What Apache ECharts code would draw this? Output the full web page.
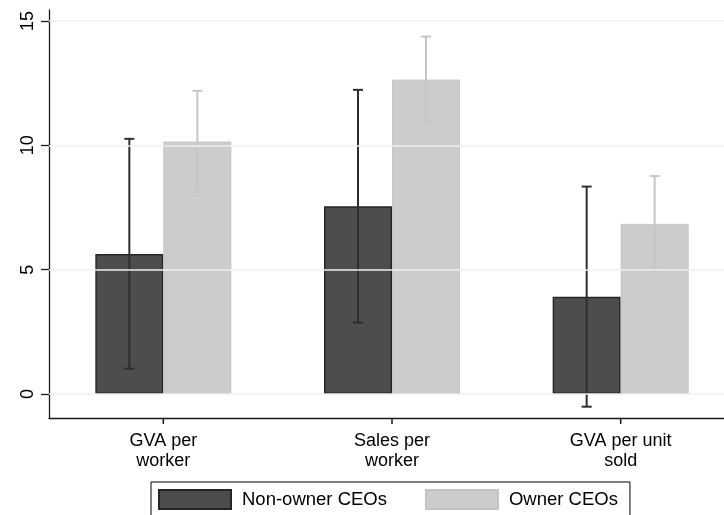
<!DOCTYPE html>
<html>
<head>
<meta charset="utf-8">
<script src="https://cdn.jsdelivr.net/npm/echarts@6/dist/echarts.min.js"></script>
<style>
  html, body { margin: 0; padding: 0; background: #ffffff; }
  #chart { width: 724px; height: 515px; }
</style>
</head>
<body>
<div id="chart"></div>
<script>
// Productivity measures by CEO type: means with 95% confidence intervals
const categories = ['GVA per\nworker', 'Sales per\nworker', 'GVA per unit\nsold'];
const nonOwnerMean = [5.63, 7.55, 3.91];
const nonOwnerLow  = [1.02, 2.87, -0.51];
const nonOwnerHigh = [10.26, 12.23, 8.34];
const ownerMean = [10.15, 12.64, 6.84];
const ownerLow  = [8.12, 10.92, 4.93];
const ownerHigh = [12.19, 14.37, 8.76];
const yTicks = [0, 5, 10, 15];

const FONT = '"Liberation Sans", Arial, sans-serif';
const BAR_W = 68;
const DARK = '#4d4d4d';
const LIGHT = '#cccccc';
const AXIS_COLOR = '#1a1a1a';

// Plot area and value range of the main axis
const PLOT_TOP = 10, PLOT_H = 408, PLOT_LEFT = 49, PLOT_RIGHT = -11;
const Y_MIN = -0.965, Y_MAX = 15.44;
const TICK_MIN = yTicks[0], TICK_MAX = yTicks[yTicks.length - 1];
const TICK_STEP = yTicks[1] - yTicks[0];
// A second grid spanning exactly the labelled range carries ticks, labels and gridlines
const pxPerUnit = PLOT_H / (Y_MAX - Y_MIN);
const tickGridTop = PLOT_TOP + (Y_MAX - TICK_MAX) * pxPerUnit;
const tickGridH = (TICK_MAX - TICK_MIN) * pxPerUnit;

// Vertical whisker with end caps, shifted to sit over its bar
function whisker(low, high, offset, color) {
  return function (params, api) {
    const i = params.dataIndex;
    const top = api.coord([i, high[i]]);
    const bot = api.coord([i, low[i]]);
    const x = top[0] + offset;
    const cap = 5;
    const style = { stroke: color, lineWidth: 2 };
    return {
      type: 'group',
      children: [
        { type: 'line', shape: { x1: x, y1: top[1], x2: x, y2: bot[1] }, style },
        { type: 'line', shape: { x1: x - cap, y1: top[1], x2: x + cap, y2: top[1] }, style },
        { type: 'line', shape: { x1: x - cap, y1: bot[1], x2: x + cap, y2: bot[1] }, style }
      ]
    };
  };
}

// Downward tick mark under each category
function xTickMark(params, api) {
  const cs = params.coordSys;
  const x = api.coord([api.value(0), 0])[0];
  const yBase = cs.y + cs.height;
  return {
    type: 'line',
    shape: { x1: x, y1: yBase, x2: x, y2: yBase + 6 },
    style: { stroke: AXIS_COLOR, lineWidth: 1.5 }
  };
}

const chart = echarts.init(document.getElementById('chart'), null, { renderer: 'canvas' });
chart.setOption({
  animation: false,
  backgroundColor: '#ffffff',
  textStyle: { fontFamily: FONT },
  grid: [
    { left: PLOT_LEFT, top: PLOT_TOP, right: PLOT_RIGHT, height: PLOT_H, containLabel: false, outerBoundsMode: 'none' },
    { left: PLOT_LEFT, top: tickGridTop, right: PLOT_RIGHT, height: tickGridH, containLabel: false, outerBoundsMode: 'none' }
  ],
  legend: {
    left: 151,
    top: 482,
    orient: 'horizontal',
    itemWidth: 72,
    itemHeight: 19,
    itemGap: 38,
    padding: [7, 12, 7, 7],
    borderColor: '#000000',
    borderWidth: 1,
    backgroundColor: '#ffffff',
    icon: 'rect',
    textStyle: { fontFamily: FONT, fontSize: 18.5, color: '#000000', padding: [0, 0, 0, 6] },
    data: ['Non-owner CEOs', 'Owner CEOs']
  },
  xAxis: [
    {
      type: 'category',
      gridIndex: 0,
      data: categories,
      boundaryGap: true,
      axisLine: { onZero: false, lineStyle: { color: AXIS_COLOR, width: 1.3 } },
      axisTick: { show: false },
      axisLabel: { fontFamily: FONT, fontSize: 18, color: '#000000', margin: 13, lineHeight: 20 },
      splitLine: { show: false }
    },
    {
      type: 'category',
      gridIndex: 1,
      data: categories,
      show: false
    }
  ],
  yAxis: [
    {
      type: 'value',
      gridIndex: 0,
      min: Y_MIN,
      max: Y_MAX,
      axisLine: { show: true, lineStyle: { color: AXIS_COLOR, width: 1.3 } },
      axisTick: { show: false },
      axisLabel: { show: false },
      splitLine: { show: false }
    },
    {
      type: 'value',
      gridIndex: 1,
      min: TICK_MIN,
      max: TICK_MAX,
      interval: TICK_STEP,
      z: 5,
      axisLine: { show: false },
      axisTick: { show: true, inside: false, length: 8, lineStyle: { color: AXIS_COLOR, width: 1.3 } },
      axisLabel: { fontFamily: FONT, fontSize: 18, color: '#000000', rotate: 90, margin: 12 },
      splitLine: { show: true, lineStyle: { color: '#eaf2f3', width: 1.5 } }
    }
  ],
  series: [
    {
      name: 'Non-owner CEOs',
      type: 'bar',
      xAxisIndex: 0,
      yAxisIndex: 0,
      data: nonOwnerMean,
      barWidth: BAR_W,
      barGap: '0%',
      itemStyle: { color: DARK, borderColor: '#262626', borderWidth: 1.5 },
      z: 2
    },
    {
      name: 'Owner CEOs',
      type: 'bar',
      xAxisIndex: 0,
      yAxisIndex: 0,
      data: ownerMean,
      barWidth: BAR_W,
      barGap: '0%',
      itemStyle: { color: LIGHT, borderColor: '#c4c4c4', borderWidth: 1 },
      z: 2
    },
    {
      type: 'custom',
      name: 'nonOwnerCI',
      xAxisIndex: 0,
      yAxisIndex: 0,
      data: nonOwnerMean,
      renderItem: whisker(nonOwnerLow, nonOwnerHigh, -BAR_W / 2, '#2e2e2e'),
      z: 3,
      silent: true
    },
    {
      type: 'custom',
      name: 'ownerCI',
      xAxisIndex: 0,
      yAxisIndex: 0,
      data: ownerMean,
      renderItem: whisker(ownerLow, ownerHigh, BAR_W / 2, '#c6c6c6'),
      z: 3,
      silent: true
    },
    {
      type: 'custom',
      name: 'xTickMarks',
      xAxisIndex: 0,
      yAxisIndex: 0,
      data: categories.map((c, i) => [i, 0]),
      encode: { x: 0, y: 1 },
      renderItem: xTickMark,
      clip: false,
      z: 10,
      silent: true
    }
  ]
});
</script>
</body>
</html>
